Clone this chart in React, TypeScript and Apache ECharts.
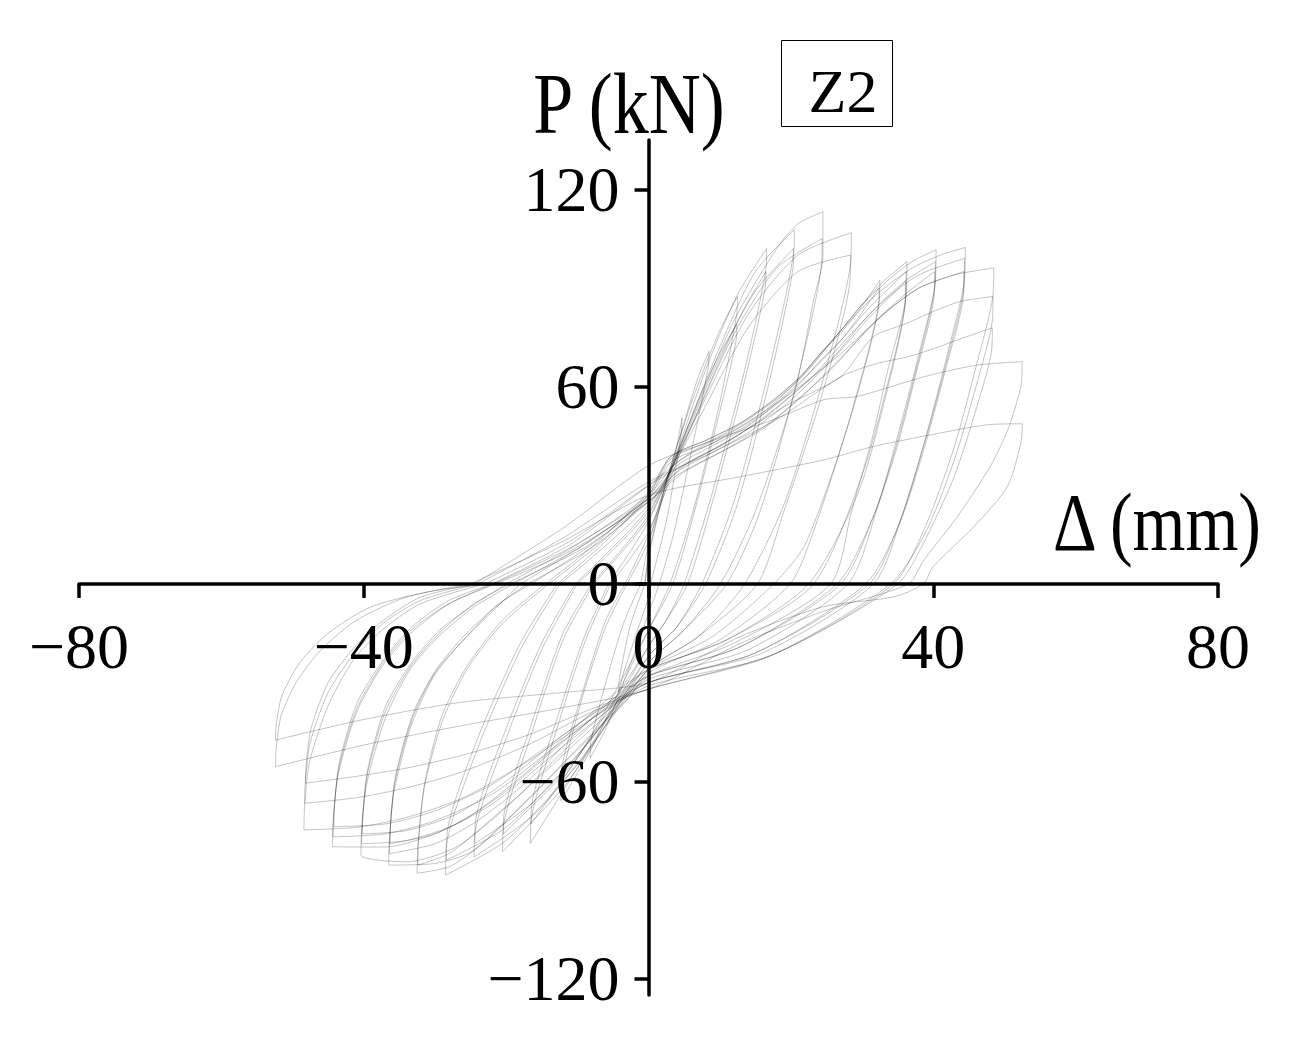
import React, { useEffect, useRef } from "react";
import * as echarts from "echarts";

// Axis ticks
const xTicks = [-80, -40, 0, 40, 80];
const yTicks = [-120, -60, 0, 60, 120];

// Hysteresis cycles [displacement (mm), load (kN)]
const L04 = [[-0.5,0],[0,8],[2.2,28.6],[3.8,40],[4.7,50.5],[4.6,46],[2.6,20],[0.3,0],[0,-4],[-2,-17],[-3.5,-27],[-4.2,-33],[-4.1,-29],[-2.6,-13],[-0.5,0]];
const L08 = [[-0.5,0],[0,9],[2.5,31],[5,49],[7,63],[8.5,70.7],[8.4,66],[6,40],[3.5,15],[1.5,0],[0,-9],[-3,-27],[-6,-44],[-8.2,-53],[-8.1,-48],[-6,-30],[-3.5,-12],[-1.1,0]];
const L12a = [[-1.1,0],[0,12],[3,35],[6.5,58],[10,77],[12.5,87.4],[12.4,82],[10,55],[6.5,24],[3,0],[0,-14],[-4,-32],[-8,-50],[-12.3,-66],[-12.2,-60],[-9.5,-36],[-6,-13],[-3,0]];
const L12b = [[-3,0],[0,13],[3.5,36],[7,56],[10,70],[12.4,79],[12.3,74],[9.5,48],[6.2,20],[3.4,0],[0,-14],[-4,-30],[-8,-46],[-12.2,-60],[-12.1,-55],[-9,-31],[-6,-11],[-3.3,0]];
const L16a = [[-3.3,0],[0,15],[4,40],[8,65],[12.5,88],[16.6,102],[16.5,96],[13.5,65],[9,28],[5,0],[2.5,-11],[0,-19],[-5,-38],[-10,-56],[-16.6,-78.9],[-16.5,-72],[-13,-45],[-9,-18],[-5.3,0]];
const L16b = [[-5.3,0],[0,16],[4.5,40],[9,63],[13,82],[16.5,95],[16.4,90],[13.3,60],[9,25],[5.5,0],[2.5,-11],[0,-19],[-5,-36],[-10,-53],[-16.5,-73],[-16.4,-67],[-13,-42],[-9,-16],[-5.6,0]];
const L20a = [[-5.6,0],[0,19],[5,45],[10,72],[15,95],[20.5,107.7],[20.4,101],[16.7,63],[12,25],[7.5,0],[4,-13],[0,-22],[-6,-43],[-12,-62],[-20.5,-81.4],[-20.4,-74],[-16.5,-46],[-12,-17],[-7.7,0]];
const L20b = [[-7.7,0],[0,20],[5,44],[10,69],[15,89],[20.4,102],[20.3,96],[16.8,60],[12.3,23],[8,0],[4,-13],[0,-22],[-6,-41],[-12,-58],[-20.4,-76],[-20.3,-70],[-16.5,-43],[-12,-15],[-8,0]];
const L24a = [[-8,0],[0,21],[6,50],[12,80],[18,102],[21,109.5],[24.5,113.2],[24.5,99.6],[23.2,86.4],[20.5,58],[15,22],[10.1,0],[5,-14],[0,-24],[-8,-49],[-16,-70],[-24.5,-83],[-24.4,-76],[-20,-47],[-15,-20],[-10,0]];
const L24b = [[-10,0],[0,22],[6,48],[12,76],[18,96],[24.4,105],[24.3,97],[20.3,57],[15.5,21],[11,0],[5,-14],[0,-24],[-8,-47],[-16,-66],[-24.4,-79],[-24.3,-72],[-20,-44],[-15,-18],[-10.3,0]];
const L28a = [[-10.3,0],[0,23],[7,52],[14,82],[21,100],[28.5,106.8],[28.4,98],[24.5,62],[19,24],[13.5,0],[7,-16],[0,-26],[-10,-55],[-20,-78],[-28.5,-88.5],[-28.4,-80],[-24,-50],[-18,-20],[-12.4,0]];
const L28b = [[-12.4,0],[0,24],[7,50],[14,78],[21,95],[28.4,100],[28.3,92],[24.3,57],[19,22],[15.3,0],[7,-16],[0,-26],[-10,-52],[-20,-74],[-28.4,-84],[-28.3,-76],[-24,-47],[-18,-18],[-12.8,0]];
const L32a = [[-12.8,0],[-6,13],[0,27],[3.1,38.7],[8.2,43.8],[12.9,48.9],[17.6,56],[21.3,63],[24.2,70.2],[27,76.3],[29.5,83],[32.5,92.3],[32.4,86],[28.5,52],[23.5,18],[19.9,0],[10,-17],[0,-27],[-3,-35.3],[-10,-50.5],[-17,-65.7],[-24.5,-81],[-28,-86],[-32.5,-88],[-32.4,-80],[-31.5,-62],[-29,-42],[-25.5,-26],[-20.5,-12],[-14,0]];
const L32b = [[-14,0],[-7,12],[0,26],[3.1,37],[8.2,42],[12.9,47],[17.6,54],[21.3,61],[24.2,68],[27,74],[29.5,81],[32.4,90],[32.3,84],[28,48],[22,12],[17.6,0],[9,-16],[0,-26],[-3,-34],[-10,-48],[-17,-62],[-24.5,-76],[-28,-82],[-32.4,-85.5],[-32.3,-78],[-31.4,-60],[-29,-40],[-25.5,-25],[-20.5,-11],[-14.5,0]];
const L36a = [[-14.5,0],[-7,13],[0,28],[3.1,38.7],[8.2,43.8],[12.9,48.9],[17.6,56],[21.3,63],[24.2,70.2],[27,77],[30,85],[33,92],[36.3,98],[36.2,88],[33.5,64],[31.6,45.8],[28.5,22],[25.6,0],[12,-18],[0,-28],[-3,-35],[-10,-50],[-17,-65.7],[-24.5,-81],[-30,-85],[-36.5,-85.5],[-36.4,-78],[-35.8,-63.7],[-33.4,-43.4],[-30.2,-28.2],[-26.4,-18],[-21.7,-7.9],[-18,0]];
const L36b = [[-18,0],[-9,12],[0,26],[4,36],[9,42],[14,48],[19,57],[23,65],[27,74],[31,84],[36.2,95],[36.1,86],[33.5,60],[30,33],[23.2,0],[11,-17],[0,-26],[-4,-33],[-10,-45],[-17,-60],[-24,-72],[-30,-79],[-36.4,-82],[-36.3,-75],[-35.6,-60],[-33.2,-41],[-30,-27],[-26,-17],[-21.5,-7],[-17,0]];
const L36c = [[-17,0],[-8,11],[0,25],[4,34],[9,40],[14,46],[19,54],[23,62],[27,71],[31,81],[36.1,92],[36,84],[33.3,57],[29.5,28],[22.5,0],[11,-17],[0,-26],[-4,-32],[-10,-43],[-17,-57],[-24,-69],[-30,-76],[-36.3,-79],[-36.2,-72],[-35.5,-58],[-33,-39],[-29.8,-26],[-26,-16],[-21,-6],[-16.5,0]];
const L40a = [[-16.5,0],[-8,12],[0,27],[3.1,38],[8.2,43],[12.9,48.5],[17.6,55.5],[21.3,62.5],[24.2,70],[27,77],[30,85],[34,93],[37,98],[40.4,101.6],[40.3,92],[38,70],[35,45],[32,22],[28,0],[14,-20],[0,-29],[-5,-37],[-12,-51],[-20,-68],[-27,-80],[-34,-84.5],[-40.4,-82.4],[-40.3,-75],[-39.6,-61],[-37,-41],[-33.5,-26],[-29.5,-16],[-24.5,-7],[-19,0]];
const L40b = [[-19,0],[-9,12],[0,26],[4,35],[10,42],[16,50],[21,59],[26,69],[31,82],[36,92],[40.3,98],[40.2,90],[37.8,67],[34.8,42],[31.5,20],[27,0],[13,-19],[0,-28],[-5,-36],[-12,-48],[-20,-63],[-27,-73],[-34,-78],[-40.3,-79],[-40.2,-72],[-39.5,-58],[-37,-39],[-33.4,-25],[-29.4,-15],[-24.5,-6],[-19.5,0]];
const L40c = [[-19.5,0],[-9,11],[0,25],[4,33],[10,40],[16,47],[21,56],[26,66],[31,78],[36,88],[40.2,95],[40.1,87],[37.7,65],[34.7,40],[31.3,19],[26.5,0],[13,-19],[0,-28],[-5,-35],[-12,-46],[-20,-60],[-27,-70],[-34,-75],[-40.2,-76],[-40.1,-69],[-39.4,-56],[-36.9,-37],[-33.3,-24],[-29.3,-14],[-24.3,-6],[-20,0]];
const L44a = [[-20,0],[-10,12],[0,27],[4,37],[10,44],[16,52],[22,64],[27,77],[32,88],[37,96],[41,100],[44.5,102.3],[44.4,93],[42,70],[39,45],[35.5,20],[31.6,0],[16,-21],[0,-30],[-6,-39],[-14,-53],[-22,-67],[-30,-76],[-37,-80],[-44.4,-79.9],[-44.3,-72],[-43.6,-58],[-41,-39],[-37.4,-25],[-33.4,-15],[-28,-6],[-21.8,0]];
const L44b = [[-21.8,0],[-11,11],[0,26],[5,36],[11,43],[17,52],[23,63],[28,75],[33,86],[38,94],[44.4,99],[44.3,90],[41.8,67],[38.8,43],[35.3,19],[31,0],[15,-21],[0,-30],[-6,-38],[-14,-51],[-22,-64],[-30,-72],[-37,-76],[-44.3,-76.9],[-44.2,-70],[-43.5,-56],[-41,-38],[-37.3,-24],[-33.3,-14],[-28,-6],[-21.5,0]];
const L44c = [[-21.5,0],[-11,10],[0,25],[5,34],[11,41],[17,49],[23,60],[28,71],[33,82],[38,90],[44.3,95],[44.2,87],[41.7,65],[38.7,41],[35.2,18],[30.5,0],[15,-21],[0,-30],[-6,-37],[-14,-49],[-22,-61],[-30,-69],[-37,-73],[-44.2,-73.8],[-44.1,-67],[-43.4,-54],[-40.9,-36],[-37.2,-23],[-33.2,-13],[-28,-5],[-22,0]];
const L48a = [[-22,0],[-11,12],[0,30],[6,40],[13,48],[20,58],[27,70],[33,82],[38,90],[43,94],[48.5,96.1],[48.4,88],[46,66],[43,42],[39,18],[34.4,0],[17,-22],[0,-31],[-8,-41],[-17,-54],[-26,-65],[-34,-71],[-41,-74],[-48.4,-74.8],[-48.3,-67],[-47.6,-54],[-45,-37],[-41.4,-23],[-37.4,-14],[-32,-6],[-23,0]];
const L48b = [[-23,0],[-11,13],[0,30],[10,42],[20,55],[27,63],[31.6,75.2],[36,79],[40.5,83.3],[44,86],[48.4,87.4],[48.3,80],[46,60],[43,38],[39,16],[34,0],[17,-22],[0,-32],[-8,-39],[-17,-49],[-26,-57],[-34,-62],[-41,-65],[-48.3,-66.7],[-48.2,-60],[-47.5,-48],[-45,-33],[-41.3,-21],[-37.3,-12],[-32,-5],[-24,0]];
const L48c = [[-24,0],[-12,14],[0,31],[9,40],[18,50],[27,63],[32,67],[36.3,69],[40,71.5],[43.4,74.2],[48.3,77.9],[48.2,71],[46,53],[43,33],[39,14],[35,0],[18,-21],[0,-32],[-8,-38],[-17,-46],[-26,-52],[-34,-56],[-41,-58.5],[-48.2,-60.6],[-48.1,-55],[-47.4,-44],[-45,-30],[-41.2,-19],[-37.2,-11],[-32,-4],[-24.5,0]];
const L52a = [[-24.5,0],[-12,17],[0,36],[8.2,43],[17.6,50],[24.6,56],[29.3,57],[38.7,63],[46,66.5],[52.5,67.6],[52.3,60],[50.5,47],[48,35.7],[43.4,20.5],[38.7,7.3],[36.5,0],[25,-8],[13,-18],[0,-32],[-13,-38],[-26,-43],[-40,-49],[-52.4,-55.6],[-52.3,-50],[-51.6,-40],[-49.5,-30],[-46,-20],[-41,-11],[-34,-4],[-25,0]];
const L52b = [[-25,0],[-12,13],[0,27],[12.9,32.6],[24.6,37.7],[31.6,41.8],[41,45.9],[48,48.5],[52.5,48.7],[52.4,44],[50.4,29.6],[45.7,17.4],[40,5.3],[38.6,0],[34.5,-3.9],[24.6,-6.9],[12.9,-16],[0,-30],[-12,-33],[-26.4,-36],[-40.4,-41.4],[-52.4,-47.5],[-52.3,-43],[-51.5,-34],[-49,-24],[-45,-15],[-39,-7],[-30,-2],[-22,0]];

const cycles = [L04, L08, L12a, L12b, L16a, L16b, L20a, L20b, L24a, L24b, L28a, L28b, L32a, L32b, L36a, L36b, L36c, L40a, L40b, L40c, L44a, L44b, L44c, L48a, L48b, L48c, L52a, L52b];

const FONT = "'Liberation Serif', 'Times New Roman', serif";
const fmt = (v: number) => (v < 0 ? "\u2212" + Math.abs(v) : String(v));

// plot area (px) — the axes cross at the data origin inside it
const GRID = { left: 79, right: 78, top: 140, bottom: 48 };
const X_MIN = -80, X_MAX = 80, Y_MIN = -125, Y_MAX = 135;

export default function App() {
  const ref = useRef<HTMLDivElement>(null);
  useEffect(() => {
    if (!ref.current) return;
    const chart = echarts.init(ref.current, undefined, { renderer: "svg" });
    const W = 1296, H = 1043;
    const gw = W - GRID.left - GRID.right;
    const gh = H - GRID.top - GRID.bottom;
    // move each axis from the grid edge to the other axis' zero
    const yOffset = -((0 - X_MIN) / (X_MAX - X_MIN)) * gw;
    const xOffset = -((0 - Y_MIN) / (Y_MAX - Y_MIN)) * gh;
    const axisLine = { onZero: false, lineStyle: { color: "#000", width: 3.5 } };
    const tickStyle = { color: "#000", width: 3.5 };
    chart.setOption({
      animation: false,
      backgroundColor: "#fff",
      grid: { ...GRID, containLabel: false, outerBoundsMode: "none" },
      xAxis: {
        type: "value",
        position: "bottom",
        offset: xOffset,
        min: X_MIN,
        max: X_MAX,
        interval: 40,
        axisLine,
        axisTick: { length: 14, lineStyle: tickStyle, customValues: xTicks },
        axisLabel: { margin: 31, fontSize: 64, fontFamily: FONT, color: "#000", formatter: fmt, customValues: xTicks },
        splitLine: { show: false },
      },
      yAxis: {
        type: "value",
        position: "left",
        offset: yOffset,
        min: Y_MIN,
        max: Y_MAX,
        axisLine,
        axisTick: { length: 14, lineStyle: tickStyle, customValues: yTicks },
        axisLabel: { margin: 29, fontSize: 64, fontFamily: FONT, color: "#000", formatter: fmt, customValues: yTicks },
        splitLine: { show: false },
      },
      graphic: [
        {
          type: "text",
          x: 629,
          y: 104,
          scaleY: 1.2,
          style: { text: "P (kN)", fontSize: 72, fontFamily: FONT, fill: "#000", textAlign: "center", textVerticalAlign: "middle" },
        },
        {
          type: "text",
          x: 1157,
          y: 522,
          scaleY: 1.2,
          style: { text: "\u0394 (mm)", fontSize: 68, fontFamily: FONT, fill: "#000", textAlign: "center", textVerticalAlign: "middle" },
        },
        {
          type: "rect",
          shape: { x: 781.5, y: 40.5, width: 111, height: 86 },
          style: { fill: "none", stroke: "#000", lineWidth: 1 },
        },
        {
          type: "text",
          x: 843,
          y: 91,
          style: { text: "Z2", fontSize: 62, fontFamily: FONT, fill: "#000", textAlign: "center", textVerticalAlign: "middle" },
        },
      ],
      series: cycles.map((d) => ({
        type: "line",
        data: d,
        showSymbol: false,
        symbol: "none",
        smooth: 0.25,
        silent: true,
        lineStyle: { color: "rgba(0,0,0,0.26)", width: 0.9 },
      })),
    });
    return () => chart.dispose();
  }, []);
  return <div ref={ref} style={{ position: "fixed", left: 0, top: 0, width: 1296, height: 1043, background: "#fff" }} />;
}
